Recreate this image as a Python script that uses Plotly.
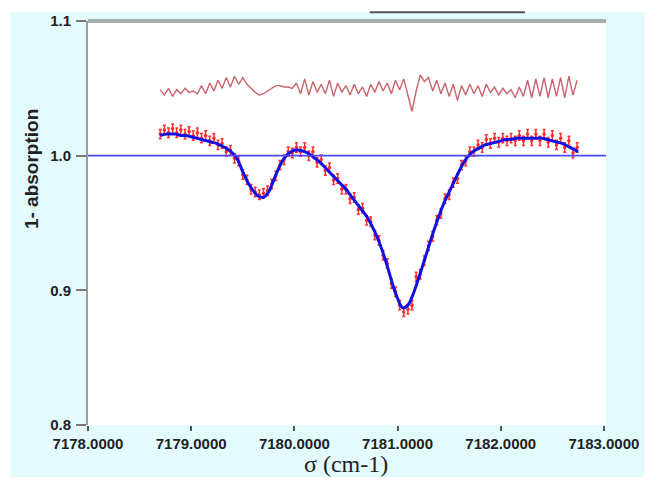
import plotly.graph_objects as go

# ---- fit curve (blue) ----
fit_x = [7178.70 + 0.05 * i for i in range(82)]
fit_y = [1.015, 1.016, 1.016, 1.016, 1.015, 1.015, 1.014, 1.013, 1.012, 1.011,
         1.010, 1.009, 1.007, 1.005, 1.002, 0.997, 0.988, 0.980, 0.974, 0.970,
         0.969, 0.973, 0.982, 0.991, 0.998, 1.002, 1.004, 1.004, 1.003, 1.001,
         0.998, 0.995, 0.991, 0.987, 0.983, 0.979, 0.975, 0.970, 0.965, 0.960,
         0.955, 0.948, 0.940, 0.930, 0.918, 0.905, 0.894, 0.887, 0.889, 0.897,
         0.908, 0.920, 0.932, 0.944, 0.955, 0.965, 0.973, 0.981, 0.989, 0.996,
         1.001, 1.004, 1.006, 1.008, 1.009, 1.010, 1.011, 1.012, 1.012, 1.013,
         1.013, 1.013, 1.013, 1.013, 1.013, 1.012, 1.011, 1.010, 1.009, 1.007,
         1.005, 1.003]

# ---- measured points (red, with error bars) ----
data_x = [7178.70 + 0.04 * i for i in range(102)]
data_y = [1.016, 1.019, 1.017, 1.020, 1.017, 1.019, 1.016, 1.018, 1.015, 1.017,
          1.013, 1.015, 1.011, 1.013, 1.008, 1.009, 1.003, 1.004, 0.998, 0.996,
          0.986, 0.982, 0.975, 0.973, 0.971, 0.972, 0.974, 0.979, 0.985, 0.993,
          0.997, 1.003, 1.002, 1.006, 1.003, 1.006, 1.000, 1.003, 0.995, 0.997,
          0.989, 0.991, 0.982, 0.983, 0.975, 0.975, 0.968, 0.969, 0.960, 0.961,
          0.952, 0.951, 0.941, 0.937, 0.926, 0.920, 0.905, 0.899, 0.889, 0.884,
          0.886, 0.889, 0.910, 0.912, 0.922, 0.933, 0.940, 0.952, 0.957, 0.968,
          0.971, 0.980, 0.983, 0.993, 0.996, 1.003, 1.003, 1.008, 1.006, 1.012,
          1.009, 1.013, 1.010, 1.013, 1.011, 1.013, 1.011, 1.015, 1.011, 1.016,
          1.011, 1.016, 1.011, 1.016, 1.010, 1.015, 1.008, 1.013, 1.006, 1.011,
          1.002, 1.006]
data_err = 0.0035

# ---- residual (offset, brick red) ----
resid_y = [1.049, 1.045, 1.050, 1.044, 1.049, 1.046, 1.050, 1.047, 1.048, 1.046,
           1.052, 1.046, 1.054, 1.048, 1.056, 1.050, 1.058, 1.051, 1.059, 1.053,
           1.058, 1.053, 1.050, 1.047, 1.045, 1.046, 1.048, 1.050, 1.052, 1.052,
           1.051, 1.051, 1.050, 1.054, 1.046, 1.057, 1.045, 1.055, 1.047, 1.053,
           1.046, 1.056, 1.044, 1.054, 1.047, 1.052, 1.045, 1.053, 1.046, 1.051,
           1.044, 1.053, 1.047, 1.055, 1.048, 1.054, 1.046, 1.056, 1.049, 1.057,
           1.045, 1.033, 1.048, 1.060, 1.055, 1.058, 1.048, 1.056, 1.046, 1.054,
           1.044, 1.053, 1.041, 1.052, 1.045, 1.053, 1.046, 1.052, 1.044, 1.053,
           1.047, 1.051, 1.045, 1.050, 1.046, 1.049, 1.043, 1.051, 1.044, 1.056,
           1.043, 1.057, 1.044, 1.058, 1.043, 1.057, 1.044, 1.058, 1.043, 1.059,
           1.045, 1.056]

baseline_y = 1.0
x_ticks = [7178, 7179, 7180, 7181, 7182, 7183]
x_tick_text = ["7178.0000", "7179.0000", "7180.0000", "7181.0000", "7182.0000", "7183.0000"]
y_ticks = [0.8, 0.9, 1.0, 1.1]
y_tick_text = ["0.8", "0.9", "1.0", "1.1"]

fig = go.Figure()

fig.add_trace(go.Scatter(x=data_x, y=resid_y, mode="lines",
                         line=dict(color="rgba(190,60,70,0.8)", width=1.4),
                         hoverinfo="skip", showlegend=False))
fig.add_trace(go.Scatter(x=data_x, y=data_y, mode="markers",
                         marker=dict(color="#ff2a2a", size=3.5),
                         error_y=dict(type="constant", value=data_err, color="#ff3030",
                                      thickness=1.5, width=1.5),
                         showlegend=False))
fig.add_trace(go.Scatter(x=fit_x, y=fit_y, mode="lines",
                         line=dict(color="#1010e0", width=3, shape="spline"),
                         showlegend=False))

W, H = 651, 490
L, R, T, B = 88, 39, 14, 65
pw, ph = W - L - R, H - T - B

def px(xp):
    return (xp - L) / pw

def py(yp):
    return (H - B - yp) / ph

shapes = [
    # cyan frame background
    dict(type="rect", xref="paper", yref="paper", x0=px(10), x1=px(651), y0=py(478), y1=py(5),
         fillcolor="#e4fbfd", line=dict(width=0), layer="below"),
    # white plot area
    dict(type="rect", xref="paper", yref="paper", x0=0, x1=1, y0=0, y1=1,
         fillcolor="white", line=dict(width=0), layer="below"),
    # baseline at 1.0
    dict(type="line", xref="paper", yref="y", x0=0, x1=1, y0=baseline_y, y1=baseline_y,
         line=dict(color="#4a4aff", width=1.6)),
    # top grey border
    dict(type="line", xref="paper", yref="paper", x0=0, x1=1, y0=1, y1=1,
         line=dict(color="#a9adad", width=4)),
    # dark line fragment at top
    dict(type="line", xref="paper", yref="paper", x0=px(373), x1=px(530), y0=py(5), y1=py(5),
         line=dict(color="#555555", width=2)),
]

tick_font = dict(family="Arial", size=15, color="#222", weight="bold")

fig.update_layout(
    width=W, height=H,
    margin=dict(l=L, r=R, t=T, b=B),
    paper_bgcolor="white",
    plot_bgcolor="rgba(0,0,0,0)",
    shapes=shapes,
    showlegend=False,
    xaxis=dict(range=[7178, 7183.02], tickvals=x_ticks, ticktext=x_tick_text,
               showgrid=False, zeroline=False, showline=False,
               ticks="outside", ticklen=5, tickwidth=1.5, tickcolor="#555",
               tickfont=tick_font),
    yaxis=dict(range=[0.8, 1.1], tickvals=y_ticks, ticktext=y_tick_text,
               showgrid=False, zeroline=False, showline=True, linecolor="#9a9a9a", linewidth=2,
               ticks="outside", ticklen=10, tickwidth=1.5, tickcolor="#777",
               ticklabelstandoff=2, tickfont=tick_font),
    annotations=[
        dict(text="σ (cm-1)", xref="paper", yref="paper", x=px(349), y=py(465),
             showarrow=False, xanchor="center", yanchor="middle",
             font=dict(family="Liberation Serif", size=24, color="#222")),
        dict(text="1- absorption", xref="paper", yref="paper", x=px(31), y=py(165),
             showarrow=False, xanchor="center", yanchor="middle", textangle=-90,
             font=dict(family="Arial", size=19, color="#222", weight="bold")),
    ],
)

fig.write_html("out.html", config={"displayModeBar": False},
               post_script="document.body.style.margin='0px';")
